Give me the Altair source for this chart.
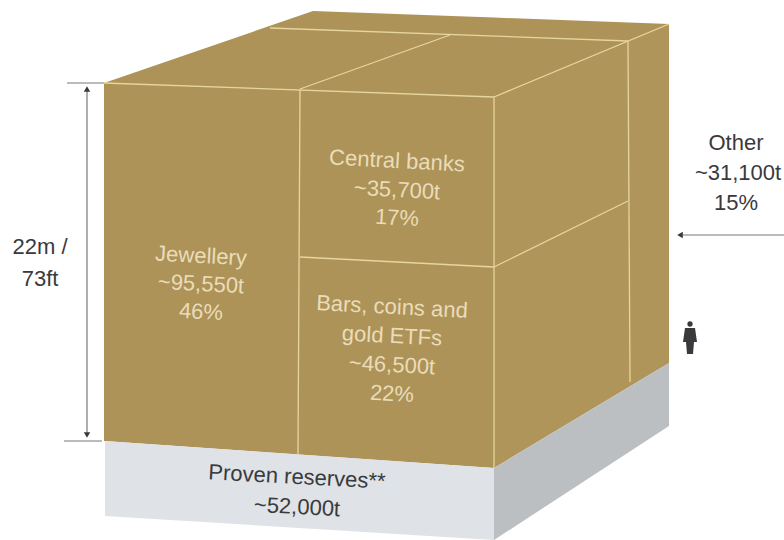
import altair as alt
import numpy as np
import pandas as pd

# Cube faces as outlines on a 784 x 540 drawing grid (y grows downwards).
GOLD = "#ad9358"
GOLD_SIDE = "#af9559"
PALE_FRONT = "#dfe2e6"
PALE_SIDE = "#bcbfc1"
SEAM = "#e6d59f"
INK = "#3a3a3c"
INK_GREY = "#77787b"

faces = {
    "top": (GOLD, [(104, 83), (313, 11), (669, 24), (494, 97)]),
    "front": (GOLD, [(104, 83), (494, 97), (494, 468), (104, 441)]),
    "side": (GOLD_SIDE, [(494, 97), (669, 24), (669, 363), (494, 468)]),
    "base_front": (PALE_FRONT, [(105, 441), (494, 468), (494, 540), (105, 516)]),
    "base_side": (PALE_SIDE, [(494, 468), (669, 363), (669, 426), (494, 540)]),
    "person_body": (INK, [(685, 328), (695, 328), (697, 342), (694, 342), (693, 354), (687, 354), (686, 342), (683, 342)]),
}

# Pale seams between the stock categories.
seams = [
    [(104, 83), (494, 97)],
    [(300, 89), (298, 455)],
    [(300, 257), (494, 267)],
    [(494, 97), (494, 468)],
    [(494, 267), (628, 201)],
    [(628, 41), (630, 382)],
    [(494, 97), (669, 24)],
    [(270, 28), (628, 41)],
    [(300, 89), (450, 35)],
]

# Dimension and pointer lines.
guides = [
    ("tick", [(67, 83), (104, 83)]),
    ("tick", [(64, 441), (102, 441)]),
    ("arrow", [(87, 90), (87, 434)]),
    ("arrow", [(680, 235), (784, 235)]),
]
arrow_heads = [(87, 89, 0), (87, 435, 180), (680, 235, 270)]
person_head = [(690, 324)]

CREAM = "#eadcb8"
labels = [
    ("Jewellery", 201, 256, 3, CREAM),
    ("~95,550t", 201, 284, 3, CREAM),
    ("46%", 201, 312, 3, CREAM),
    ("Central banks", 397, 161, 3, CREAM),
    ("~35,700t", 397, 190, 3, CREAM),
    ("17%", 397, 218, 3, CREAM),
    ("Bars, coins and", 392, 307, 3, CREAM),
    ("gold ETFs", 392, 336, 3, CREAM),
    ("~46,500t", 392, 365, 3, CREAM),
    ("22%", 392, 394, 3, CREAM),
    ("Proven reserves**", 297, 477, 3, INK),
    ("~52,000t", 297, 507, 3, INK),
    ("22m /", 40, 247, 0, INK),
    ("73ft", 40, 279, 0, INK),
    ("Other", 736, 143, 0, INK),
    ("~31,100t", 738, 173, 0, INK),
    ("15%", 736, 203, 0, INK),
]


def band_rows(name, color, outline):
    """Turn a convex outline into upper and lower edges sampled at its vertices."""
    pts = outline + [outline[0]]
    xs = sorted({p[0] for p in outline})
    rows = []
    for x in xs:
        hits = []
        for (x0, y0), (x1, y1) in zip(pts, pts[1:]):
            if min(x0, x1) <= x <= max(x0, x1):
                if x0 == x1:
                    hits += [y0, y1]
                else:
                    hits.append(y0 + (y1 - y0) * (x - x0) / (x1 - x0))
        rows.append({"face": name, "tone": color, "x": x, "y": min(hits), "y_low": max(hits)})
    return rows


face_rows = [r for name, (color, outline) in faces.items() for r in band_rows(name, color, outline)]
seam_rows = [
    {"id": i, "x": x, "y": y, "n": j}
    for i, seam in enumerate(seams)
    for j, (x, y) in enumerate(seam)
]
guide_rows = [
    {"id": i, "kind": kind, "x": x, "y": y, "n": j}
    for i, (kind, line) in enumerate(guides)
    for j, (x, y) in enumerate(line)
]

x_scale = alt.Scale(domain=[0, 784], range=[0, 784], nice=False, zero=False)
y_scale = alt.Scale(domain=[0, 540], range=[0, 540], nice=False, zero=False)
X = alt.X("x:Q", scale=x_scale, axis=None)
Y = alt.Y("y:Q", scale=y_scale, axis=None)

face_layer = (
    alt.Chart(pd.DataFrame(face_rows))
    .mark_area(interpolate="linear", line=False)
    .encode(
        x=X,
        y=alt.Y("y:Q", scale=y_scale, axis=None, stack=None),
        y2=alt.Y2("y_low"),
        color=alt.Color("tone:N", scale=None),
        detail="face:N",
    )
)

seam_layer = (
    alt.Chart(pd.DataFrame(seam_rows))
    .mark_line(color=SEAM, strokeWidth=1.3)
    .encode(x=X, y=Y, detail="id:N", order="n:Q")
)

guide_layer = (
    alt.Chart(pd.DataFrame(guide_rows))
    .mark_line(color=INK_GREY, strokeWidth=1.2)
    .encode(x=X, y=Y, detail="id:N", order="n:Q")
)

head_layer = (
    alt.Chart(pd.DataFrame(arrow_heads, columns=["x", "y", "angle"]))
    .mark_point(shape="triangle-up", filled=True, size=42, color=INK, opacity=1)
    .encode(x=X, y=Y, angle=alt.Angle("angle:Q", scale=None))
)

person_layer = (
    alt.Chart(pd.DataFrame(person_head, columns=["x", "y"]))
    .mark_point(shape="circle", filled=True, size=28, color=INK, opacity=1)
    .encode(x=X, y=Y)
)

text_layer = (
    alt.Chart(pd.DataFrame(labels, columns=["label", "x", "y", "tilt", "ink"]))
    .mark_text(font="Liberation Sans", fontSize=22, align="center", baseline="middle")
    .encode(
        x=X,
        y=Y,
        text="label:N",
        angle=alt.Angle("tilt:Q", scale=None),
        color=alt.Color("ink:N", scale=None),
    )
)

chart = (
    alt.layer(face_layer, seam_layer, guide_layer, head_layer, person_layer, text_layer)
    .properties(width=784, height=540, padding=0, autosize=alt.AutoSizeParams(type="none"), background="white")
    .configure_view(stroke=None)
)

chart.save("out.html", embed_options={"renderer": "svg", "actions": False})
